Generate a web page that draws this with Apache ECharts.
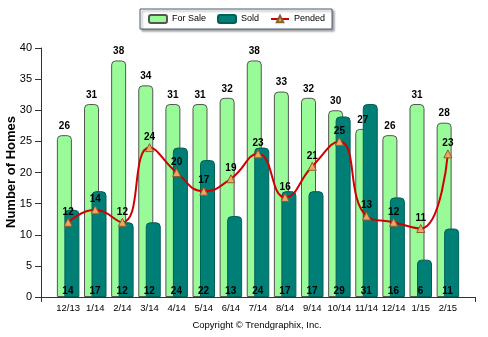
<!DOCTYPE html>
<html><head><meta charset="utf-8">
<script src="https://cdn.jsdelivr.net/npm/echarts@6/dist/echarts.min.js"></script>
<style>html,body{margin:0;padding:0;background:#fff}#c{width:488px;height:337px}</style>
</head><body><div id="c"></div>
<script>
const categories = ['12/13','1/14','2/14','3/14','4/14','5/14','6/14','7/14','8/14','9/14','10/14','11/14','12/14','1/15','2/15'];
const forSale = [26,31,38,34,31,31,32,38,33,32,30,27,26,31,28];
const sold = [14,17,12,12,24,22,13,24,17,17,29,31,16,6,11];
const pended = [12,14,12,24,20,17,19,23,16,21,25,13,12,11,23];
const yTicks = [0,5,10,15,20,25,30,35,40];
const yTitle = 'Number of Homes';

const FONT = 'Liberation Sans, Arial, sans-serif';
const chart = echarts.init(document.getElementById('c'), null, {renderer:'canvas'});
const pts = arr => arr.map((v,i)=>[i,v]);
const lbl = {color:'#000', fontWeight:'bold', fontSize:10, fontFamily:FONT};

chart.setOption({
  animation:false,
  backgroundColor:'#fff',
  textStyle:{fontFamily:FONT},
  legend:{
    left:140, top:9, padding:[5,7,5,8], itemGap:11, itemWidth:18, itemHeight:8,
    backgroundColor:'#fff', borderColor:'#4a5a70', borderWidth:1,
    shadowBlur:2, shadowOffsetX:2, shadowOffsetY:2, shadowColor:'rgba(0,0,0,0.35)',
    textStyle:{fontSize:9, color:'#000', fontFamily:FONT},
    data:['For Sale','Sold','Pended']
  },
  grid:{left:41, right:13, top:48, bottom:40, outerBoundsMode:'none', containLabel:false},
  xAxis:{
    type:'value', min:-1, max:15, interval:1, scale:false,
    splitLine:{show:false},
    axisLine:{onZero:false, lineStyle:{color:'#333'}},
    axisTick:{show:true, length:5, lineStyle:{color:'#333'}, customValues:[-1,15]},
    axisLabel:{color:'#000', fontSize:9.5, margin:6, fontFamily:FONT,
      customValues: categories.map((c,i)=>i),
      formatter: v => categories[v] !== undefined ? categories[v] : ''}
  },
  yAxis:{
    type:'value', min:0, max:40, interval:5,
    splitLine:{show:false},
    axisLine:{show:true, onZero:false, lineStyle:{color:'#333'}},
    axisTick:{show:true, length:6, lineStyle:{color:'#333'}},
    axisLabel:{color:'#000', fontSize:11, margin:9, fontFamily:FONT,
      customValues: yTicks}
  },
  series:[
    {name:'For Sale', type:'bar', data:pts(forSale), barWidth:15, barGap:'-50%',
     itemStyle:{color:'#98FB98', borderColor:'#555', borderWidth:1, borderRadius:[4,4,0,0]},
     label:Object.assign({show:true, position:'top', distance:4}, lbl)},
    {name:'Sold', type:'bar', data:pts(sold), barWidth:15,
     itemStyle:{color:'#007F77', borderColor:'#006058', borderWidth:1, borderRadius:[4,4,0,0]},
     label:Object.assign({show:true, position:'insideBottom', distance:1, offset:[-4,0]}, lbl)},
    {name:'Pended', type:'line', data:pts(pended), smooth:0.5,
     symbol:'triangle', symbolSize:8,
     lineStyle:{color:'#D00000', width:2},
     itemStyle:{color:'#F4A460', borderColor:'#8a6030', borderWidth:1},
     label:Object.assign({show:true, position:'top', distance:1}, lbl),
     z:5}
  ],
  graphic:[
    {type:'text', x:257, y:320,
     style:{text:'Copyright \u00A9 Trendgraphix, Inc.', fill:'#000', font:'9.5px '+FONT, textAlign:'center'}},
    {type:'text', x:11, y:172, rotation:Math.PI/2,
     style:{text:yTitle, fill:'#000', font:'bold 13px '+FONT, textAlign:'center', textVerticalAlign:'middle'}}
  ]
});
</script></body></html>
